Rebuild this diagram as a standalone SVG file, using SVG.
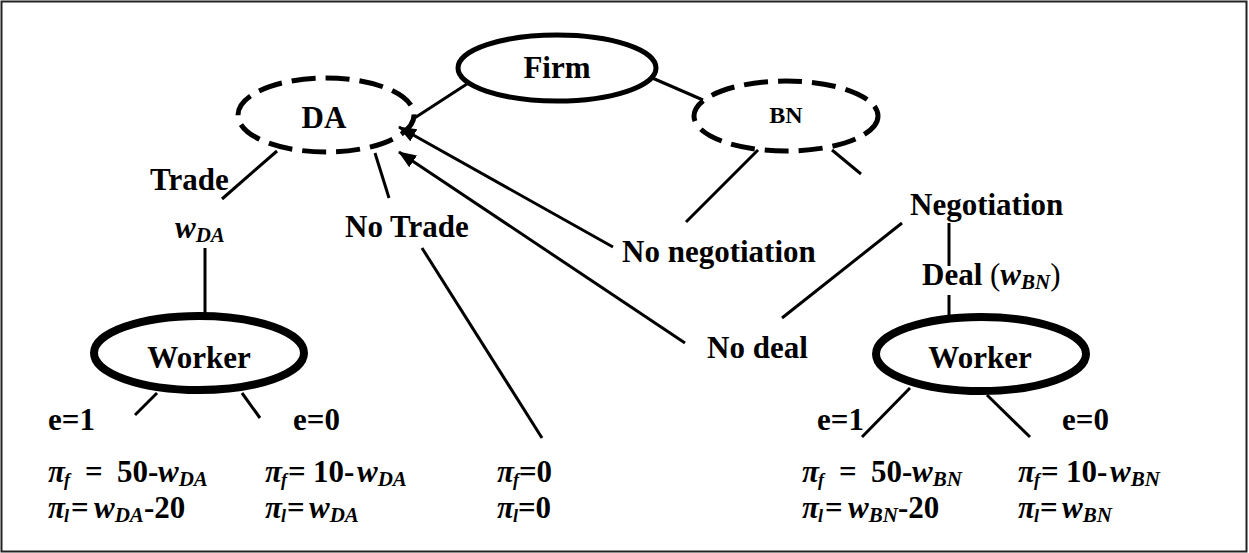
<svg xmlns="http://www.w3.org/2000/svg" width="1249" height="553" viewBox="0 0 1249 553">
<style>
text{font-family:"Liberation Serif","Times New Roman",serif;font-weight:bold;font-size:31px;fill:#000}
.it{font-style:italic}
.sub{font-style:italic;font-size:21px}
.subf{font-style:italic;font-size:18px}
.node{fill:none;stroke:#000}
.solid{stroke-width:5}
.thick{stroke-width:8}
.dash{stroke-width:5;stroke-dasharray:24 10}
.edge{stroke:#000;stroke-width:3;fill:none}
</style>
<defs>
<marker id="ah" viewBox="0 0 18 14" refX="17" refY="7" markerWidth="18" markerHeight="14" markerUnits="userSpaceOnUse" orient="auto">
<path d="M0,0 L18,7 L0,14 Z" fill="#000"/>
</marker>
</defs>
<rect x="1.5" y="1.5" width="1245" height="550" fill="#fff" stroke="#222" stroke-width="2"/>

<g id="connectors">
<line class="edge" x1="470" y1="82" x2="413" y2="119"/>
<line class="edge" x1="650" y1="77" x2="703" y2="100"/>
<line class="edge" x1="277" y1="151" x2="222" y2="199"/>
<line class="edge" x1="375" y1="153" x2="389" y2="198"/>
<line class="edge" x1="205" y1="248" x2="205" y2="316"/>
<line class="edge" x1="157" y1="393" x2="135" y2="415"/>
<line class="edge" x1="242" y1="393" x2="260" y2="418"/>
<line class="edge" x1="422" y1="248" x2="542" y2="438"/>
<line class="edge" x1="613" y1="247" x2="399" y2="127" marker-end="url(#ah)"/>
<line class="edge" x1="685" y1="343" x2="399" y2="152" marker-end="url(#ah)"/>
<line class="edge" x1="758" y1="150" x2="686" y2="222"/>
<line class="edge" x1="832" y1="150" x2="861" y2="174"/>
<line class="edge" x1="902" y1="223" x2="782" y2="318"/>
<line class="edge" x1="949" y1="223" x2="949" y2="266"/>
<line class="edge" x1="949" y1="295" x2="949" y2="317"/>
<line class="edge" x1="910" y1="388" x2="862" y2="437"/>
<line class="edge" x1="987" y1="395" x2="1030" y2="437"/>
</g>

<g id="firm">
<ellipse class="node solid" cx="557" cy="68" rx="99" ry="33"/>
<text x="557" y="78" text-anchor="middle">Firm</text>
</g>
<g id="da">
<ellipse class="node dash" cx="326" cy="115" rx="88" ry="37"/>
<text x="324" y="128" text-anchor="middle">DA</text>
</g>
<g id="bn">
<ellipse class="node dash" cx="786" cy="116" rx="92" ry="35"/>
<text x="786" y="123" text-anchor="middle" style="font-size:24px">BN</text>
</g>
<g id="worker-da">
<ellipse class="node thick" cx="199" cy="353" rx="105" ry="37"/>
<text x="199" y="368" text-anchor="middle">Worker</text>
</g>
<g id="worker-bn">
<ellipse class="node thick" cx="981" cy="354" rx="105" ry="37"/>
<text x="980" y="368" text-anchor="middle">Worker</text>
</g>

<g id="labels">
<text x="150" y="190">Trade</text>
<text x="175" y="238"><tspan class="it">w</tspan><tspan class="sub" dy="4">DA</tspan></text>
<text x="345" y="237">No Trade</text>
<text x="622" y="262">No negotiation</text>
<text x="707" y="358">No deal</text>
<text x="910" y="215">Negotiation</text>
<text x="922" y="285">Deal <tspan style="font-weight:normal">(</tspan><tspan class="it">w</tspan><tspan class="sub" dy="4">BN</tspan><tspan dy="-4" style="font-weight:normal">)</tspan></text>

<text x="48" y="430">e=1</text>
<text x="293" y="430">e=0</text>
<text x="817" y="430">e=1</text>
<text x="1062" y="430">e=0</text>

<text y="482"><tspan class="it" x="48">π</tspan><tspan class="subf" dx="-1" dy="4">f</tspan><tspan x="85" dy="-4">=</tspan><tspan x="117">50-</tspan><tspan class="it" x="158">w</tspan><tspan class="sub" dy="4">DA</tspan></text>
<text y="518"><tspan class="it" x="48">π</tspan><tspan class="subf" dx="-1" dy="4">l</tspan><tspan x="71" dy="-4">=</tspan><tspan class="it" x="94">w</tspan><tspan class="sub" dy="4">DA</tspan><tspan dy="-4">-20</tspan></text>
<text y="482"><tspan class="it" x="265">π</tspan><tspan class="subf" dx="-1" dy="4">f</tspan><tspan x="288" dy="-4">=</tspan><tspan x="313">10-</tspan><tspan class="it" x="357">w</tspan><tspan class="sub" dy="4">DA</tspan></text>
<text y="518"><tspan class="it" x="265">π</tspan><tspan class="subf" dx="-1" dy="4">l</tspan><tspan x="287" dy="-4">=</tspan><tspan class="it" x="309">w</tspan><tspan class="sub" dy="4">DA</tspan></text>

<text y="482"><tspan class="it" x="497">π</tspan><tspan class="subf" dx="-1" dy="4">f</tspan><tspan dy="-4">=0</tspan></text>
<text y="518"><tspan class="it" x="497">π</tspan><tspan class="subf" dx="-1" dy="4">l</tspan><tspan dy="-4">=0</tspan></text>

<text y="482"><tspan class="it" x="802">π</tspan><tspan class="subf" dx="-1" dy="4">f</tspan><tspan x="839" dy="-4">=</tspan><tspan x="871">50-</tspan><tspan class="it" x="912">w</tspan><tspan class="sub" dy="4">BN</tspan></text>
<text y="518"><tspan class="it" x="802">π</tspan><tspan class="subf" dx="-1" dy="4">l</tspan><tspan x="825" dy="-4">=</tspan><tspan class="it" x="848">w</tspan><tspan class="sub" dy="4">BN</tspan><tspan dy="-4">-20</tspan></text>
<text y="482"><tspan class="it" x="1018">π</tspan><tspan class="subf" dx="-1" dy="4">f</tspan><tspan x="1041" dy="-4">=</tspan><tspan x="1066">10-</tspan><tspan class="it" x="1110">w</tspan><tspan class="sub" dy="4">BN</tspan></text>
<text y="518"><tspan class="it" x="1018">π</tspan><tspan class="subf" dx="-1" dy="4">l</tspan><tspan x="1040" dy="-4">=</tspan><tspan class="it" x="1062">w</tspan><tspan class="sub" dy="4">BN</tspan></text>
</g>
</svg>
